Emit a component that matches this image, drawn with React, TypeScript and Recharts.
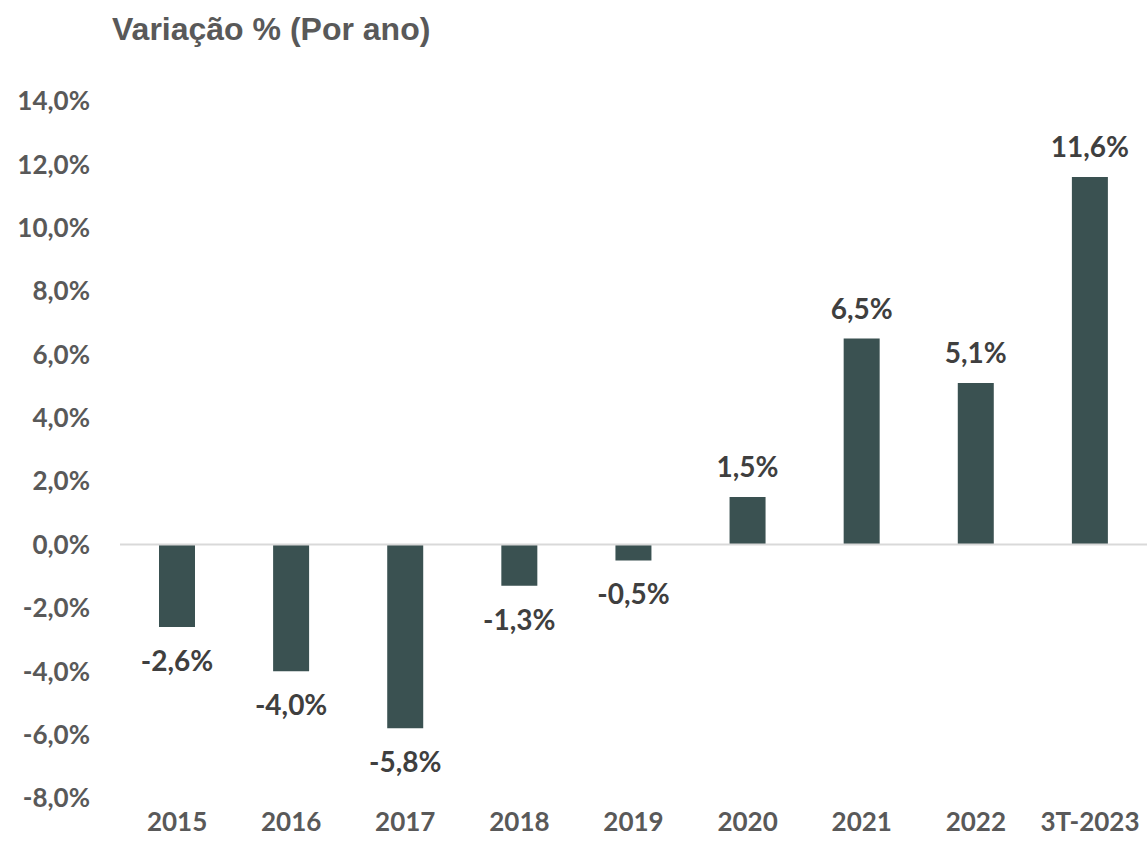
import { BarChart, Bar, XAxis, YAxis, ReferenceLine, LabelList } from 'recharts'

const years = ['2015', '2016', '2017', '2018', '2019', '2020', '2021', '2022', '3T-2023']
const variation = [-2.6, -4.0, -5.8, -1.3, -0.5, 1.5, 6.5, 5.1, 11.6]
const yTicks = [-8, -6, -4, -2, 0, 2, 4, 6, 8, 10, 12, 14]

const data = years.map((year, i) => ({ year, value: variation[i] }))

const fmt = (v: number) => `${v.toFixed(1).replace('.', ',')}%`

const tickFont = "Lato, 'Open Sans', sans-serif"

function ValueLabel(props: any) {
  const { x, y, width, height, value } = props
  const top = Math.min(y, y + height)
  const bottom = Math.max(y, y + height)
  const cx = x + width / 2
  const ty = value >= 0 ? top - 20 : bottom + 44
  return (
    <text
      x={cx}
      y={ty}
      textAnchor="middle"
      fontFamily={tickFont}
      fontWeight={700}
      fontSize={28}
      fill="#3f3f3f"
    >
      {fmt(value)}
    </text>
  )
}

export default function App() {
  return (
    <div style={{ position: 'absolute', left: 0, top: 0, width: 1147, height: 851, background: '#fff' }}>
      <div
        style={{
          position: 'absolute',
          left: 112,
          top: 11,
          fontFamily: "'Liberation Sans', Arial, sans-serif",
          fontWeight: 700,
          fontSize: 32,
          color: '#595959',
        }}
      >
        Variação % (Por ano)
      </div>
      <BarChart
        width={1147}
        height={851}
        data={data}
        margin={{ top: 101, right: 0, left: 0, bottom: 0 }}
      >
        <XAxis
          dataKey="year"
          axisLine={false}
          tickLine={false}
          height={53}
          tick={{ fontSize: 26, fontWeight: 700, fill: '#595959', fontFamily: tickFont }}
          tickMargin={9}
          interval={0}
        />
        <YAxis
          width={120}
          domain={[-8, 14]}
          ticks={yTicks}
          interval={0}
          axisLine={false}
          tickLine={false}
          tickMargin={24}
          tickFormatter={fmt}
          tick={{ fontSize: 26, fontWeight: 700, fill: '#595959', fontFamily: tickFont }}
        />
        <ReferenceLine y={0} stroke="#d9d9d9" strokeWidth={2} />
        <Bar dataKey="value" fill="#3a5151" barSize={36} isAnimationActive={false}>
          <LabelList dataKey="value" content={<ValueLabel />} />
        </Bar>
      </BarChart>
    </div>
  )
}
